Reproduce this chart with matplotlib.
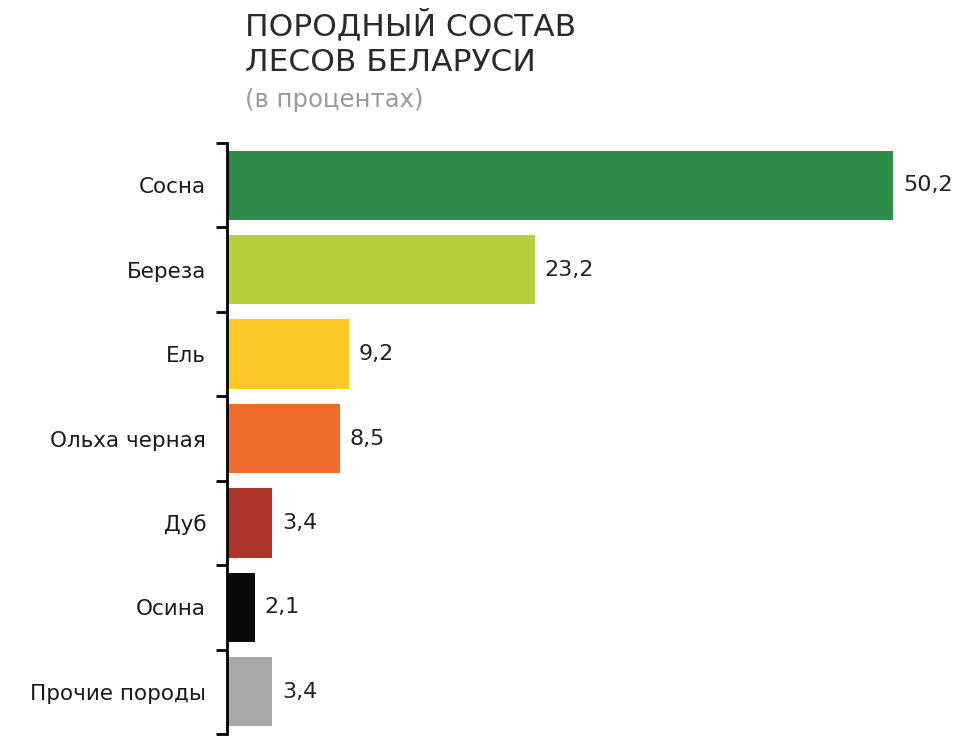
import numpy as np
import matplotlib.pyplot as plt

plt.rcParams['font.family'] = ['DejaVu Sans']

# породы и их доля, %
species = ["Сосна", "Береза", "Ель", "Ольха черная", "Дуб", "Осина", "Прочие породы"]
shares = [50.2, 23.2, 9.2, 8.5, 3.4, 2.1, 3.4]
share_labels = ["50,2", "23,2", "9,2", "8,5", "3,4", "2,1", "3,4"]
colors = ["#2e8b48", "#b6cf3b", "#fac928", "#ef6c2d", "#ae3529", "#0a0a0a", "#a8a8a8"]

fig = plt.figure(figsize=(9.63, 7.37), dpi=100)
ax = fig.add_axes([0.2357, 0.004, 0.758, 0.802])

y = np.arange(len(species))
ax.barh(y, shares, height=0.82, color=colors)

for yi, v, lab in zip(y, shares, share_labels):
    ax.annotate(lab, (v, yi), xytext=(7, 0), textcoords="offset points",
                va="center", ha="left", fontsize=16, color="#222222")

ax.set_xlim(0, 55)
ax.set_ylim(len(species) - 0.5, -0.5)

# ось: только левая линия с засечками между столбцами
for s in ["top", "right", "bottom"]:
    ax.spines[s].set_visible(False)
ax.spines["left"].set_linewidth(2)
ax.set_xticks([])
ax.set_yticks(y)
ax.set_yticklabels(species, fontsize=15.5, color="#1a1a1a")
ax.tick_params(axis="y", which="major", length=0, pad=15)
ax.set_yticks(np.arange(len(species) + 1) - 0.5, minor=True)
ax.tick_params(axis="y", which="minor", length=8, width=2, direction="out")

fig.text(0.2545, 0.988, "ПОРОДНЫЙ СОСТАВ\nЛЕСОВ БЕЛАРУСИ", fontsize=22.5,
         color="#2a2a2a", ha="left", va="top", linespacing=1.3)
fig.text(0.2545, 0.855, "(в процентах)", fontsize=17.5, color="#9a9a9a",
         ha="left", va="baseline")

fig.savefig("out.png", dpi=100)
